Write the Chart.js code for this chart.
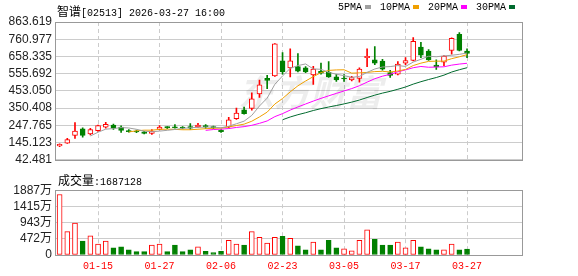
<!DOCTYPE html>
<html>
<head>
<meta charset="utf-8">
<script src="https://cdn.jsdelivr.net/npm/chart.js@4.4.1/dist/chart.umd.min.js"></script>
<style>
  html, body { margin: 0; padding: 0; background: #fff; }
  #wrap { position: relative; width: 578px; height: 276px; overflow: hidden; }
  canvas { position: absolute; left: 0; }
  #priceChart { top: 0; }
  #volChart { top: 180px; }
  .txt { position: absolute; white-space: nowrap; color: #000; line-height: 14px; }
  .cjk { font: 12px 'Noto Sans CJK SC', sans-serif; }
  .mono { font: 10px 'Liberation Mono', monospace; }
  .key { display: inline-block; width: 6px; height: 4px; margin: 0 9px 1px 3px; vertical-align: middle; }
</style>
</head>
<body>
<div id="wrap">
  <canvas id="priceChart" width="578" height="170"></canvas>
  <canvas id="volChart" width="578" height="96"></canvas>
  <div class="txt" style="left:57px;top:2px"><span class="cjk">智谱</span><span class="mono">[02513] 2026-03-27 16:00</span></div>
  <div class="txt mono" id="legend" style="left:338px;top:2px"></div>
  <div class="txt" style="left:58px;top:171px"><span class="cjk">成交量</span><span class="mono">:1687128</span></div>
</div>
<script>
// 智谱 (02513) daily K-line with MA lines and volume

const dates = [
  '01-08','01-09','01-12','01-13','01-14','01-15','01-16','01-19','01-20','01-21',
  '01-22','01-23','01-26','01-27','01-28','01-29','01-30','02-02','02-03','02-04',
  '02-05','02-06','02-09','02-10','02-11','02-12','02-13','02-16','02-20','02-23',
  '02-24','02-25','02-26','02-27','03-02','03-03','03-04','03-05','03-06','03-09',
  '03-10','03-11','03-12','03-13','03-16','03-17','03-18','03-19','03-20','03-23',
  '03-24','03-25','03-26','03-27'
];
const opens = [
  125, 142, 188, 227, 197, 216, 237, 250, 237, 216,
  213, 209, 199, 224, 237, 239, 236, 240, 238, 247,
  240, 220, 239, 287, 340, 349, 435, 528, 543, 632,
  590, 598, 590, 549, 569, 564, 537, 527, 518, 528,
  651, 638, 630, 562, 552, 619, 634, 714, 691, 607,
  624, 694, 790, 691
];
const highs = [
  138, 171, 264, 233, 230, 250, 266, 256, 245, 222,
  220, 212, 222, 247, 240, 253, 240, 258, 260, 252,
  244, 222, 296, 351, 357, 442, 518, 546, 735, 681,
  704, 676, 598, 600, 619, 628, 552, 550, 540, 590,
  704, 717, 641, 575, 628, 651, 771, 742, 700, 638,
  663, 770, 801, 704
];
const lows = [
  120, 140, 170, 178, 190, 212, 231, 224, 205, 207,
  204, 197, 193, 220, 228, 231, 226, 224, 236, 230,
  228, 205, 232, 283, 315, 338, 414, 467, 540, 552,
  537, 566, 562, 492, 552, 533, 510, 510, 512, 505,
  598, 609, 576, 533, 548, 609, 632, 651, 634, 581,
  603, 672, 692, 651
];
const closes = [
  135, 163, 214, 188, 222, 247, 254, 231, 218, 210,
  208, 199, 213, 237, 234, 233, 232, 231, 250, 240,
  234, 210, 281, 321, 318, 406, 489, 516, 733, 567,
  632, 571, 566, 583, 558, 537, 518, 524, 533, 583,
  659, 619, 583, 546, 613, 634, 748, 666, 638, 596,
  660, 767, 694, 676
];
// volume in 万股
const volumes = [
  1762, 680, 930, 402, 560, 319, 402, 208, 236, 153,
  97, 97, 291, 319, 97, 291, 97, 153, 236, 105,
  69, 105, 430, 319, 291, 680, 513, 347, 513, 541,
  486, 264, 153, 375, 153, 430, 208, 180, 125, 430,
  735, 458, 291, 291, 375, 208, 430, 236, 180, 153,
  153, 319, 153, 169
];

const priceTicks = ['42.481','145.123','247.765','350.408','453.050','555.692','658.335','760.977','863.619'];
const volTickValues = [0, 471.75, 943.5, 1415.25, 1887];
const volTickLabels = ['0', '472万', '943万', '1415万', '1887万'];
const dateTicks = ['01-15','01-27','02-06','02-23','03-05','03-17','03-27'];

const maNames = ['5PMA', '10PMA', '20PMA', '30PMA'];
const maDays = [5, 10, 20, 30];
const maColors = ['#a0a0a0', '#f0a000', '#ff00ff', '#006a2e'];

const RED = '#ff0000';
const GREEN = '#008000';
const GRID = '#cccccc';
const X_MIN = -0.6, X_MAX = 60.15;
const LABEL_FONT = "'Liberation Sans', 'Noto Sans CJK SC', sans-serif";

const priceVals = priceTicks.map(Number);
const tickIdx = dateTicks.map(d => dates.indexOf(d));

// moving averages of the closes, the way the source chart derives them
function movingAvg(n) {
    const out = [];
    for (let i = n - 1; i < closes.length; i++) {
        let s = 0;
        for (let k = i - n + 1; k <= i; k++) s += closes[k];
        out.push({ x: i, y: s / n });
    }
    return out;
}

// legend
const legend = document.getElementById('legend');
maNames.forEach((name, i) => {
    legend.innerHTML += `${name}<span class="key" style="background:${maColors[i]}"></span>`;
});

// frame around the plot area
const frame = {
    id: 'frame',
    afterDatasetsDraw(chart) {
        const { ctx, chartArea: a } = chart;
        ctx.save();
        ctx.strokeStyle = '#999';
        ctx.lineWidth = 1;
        ctx.strokeRect(Math.round(a.left) + 0.5, Math.round(a.top) + 0.5,
                       Math.round(a.right - a.left), Math.round(a.bottom - a.top));
        ctx.restore();
    }
};

const watermark = {
    id: 'watermark',
    beforeDatasetsDraw(chart) {
        const ctx = chart.ctx;
        ctx.save();
        ctx.font = "italic bold 36px 'Noto Sans CJK SC'";
        ctx.fillStyle = 'rgba(0,0,0,0.07)';
        ctx.textBaseline = 'middle';
        ctx.fillText('东方财富', 238, 92);
        ctx.restore();
    }
};

function xScale(showLabels) {
    return {
        type: 'linear',
        min: X_MIN,
        max: X_MAX,
        offset: false,
        grid: { color: GRID, drawTicks: false, offset: false },
        border: { display: false, dash: [4, 3] },
        ticks: {
            display: showLabels,
            color: RED,
            padding: 5,
            autoSkip: false,
            maxRotation: 0,
            font: { family: "'Liberation Mono', monospace", size: 10 },
            callback: v => dates[v]
        },
        afterBuildTicks: s => { s.ticks = tickIdx.map(v => ({ value: v })); },
        afterFit: s => { s.height = showLabels ? 21 : 0; }
    };
}

// ── Price chart ────────────────────────────────────────────────
const isUp = closes.map((c, i) => c >= opens[i]);
const bodies = closes.map((c, i) => ({ x: i, y: [Math.min(opens[i], c), Math.max(opens[i], c)] }));
const wicks = closes.map((c, i) => ({ x: i, y: [lows[i], highs[i]] }));

const maSets = maDays.map((n, i) => ({
    type: 'line',
    label: maNames[i],
    data: movingAvg(n),
    borderColor: maColors[i],
    borderWidth: 1,
    pointRadius: 0,
    tension: 0,
    fill: false,
    order: 0,
}));

new Chart(document.getElementById('priceChart'), {
    type: 'bar',
    data: {
        datasets: [
            ...maSets,
            {
                label: 'body',
                data: bodies,
                barThickness: 5,
                minBarLength: 1,
                grouped: false,
                borderWidth: 1,
                borderSkipped: false,
                backgroundColor: isUp.map(u => u ? '#ffffff' : GREEN),
                borderColor: isUp.map(u => u ? RED : GREEN),
                order: 1,
            },
            {
                label: 'wick',
                data: wicks,
                barThickness: 1,
                grouped: false,
                borderWidth: 0,
                backgroundColor: isUp.map(u => u ? RED : GREEN),
                order: 2,
            }
        ]
    },
    options: {
        responsive: false,
        animation: false,
        events: [],
        layout: { padding: { top: 22, right: 56, bottom: 4, left: 0 } },
        plugins: { legend: { display: false }, tooltip: { enabled: false } },
        scales: {
            x: xScale(false),
            y: {
                min: priceVals[0],
                max: priceVals[priceVals.length - 1],
                beginAtZero: false,
                grid: { color: GRID, drawTicks: false },
                border: { display: false },
                ticks: {
                    color: '#222',
                    padding: 3,
                    autoSkip: false,
                    font: { family: LABEL_FONT, size: 12 },
                    callback: (v, i) => priceTicks[i]
                },
                afterBuildTicks: s => { s.ticks = priceVals.map(v => ({ value: v })); },
                afterFit: s => { s.width = 55; }
            }
        }
    },
    plugins: [watermark, frame]
});

// ── Volume chart ───────────────────────────────────────────────
// bar colour follows the change against the previous close
const volUp = closes.map((c, i) => i === 0 ? c >= opens[0] : c >= closes[i - 1]);

new Chart(document.getElementById('volChart'), {
    type: 'bar',
    data: {
        datasets: [{
            label: '成交量',
            data: volumes.map((v, i) => ({ x: i, y: v })),
            barThickness: 5,
            grouped: false,
            borderWidth: 1,
            borderSkipped: false,
            backgroundColor: volUp.map(u => u ? '#ffffff' : GREEN),
            borderColor: volUp.map(u => u ? RED : GREEN),
        }]
    },
    options: {
        responsive: false,
        animation: false,
        events: [],
        layout: { padding: { top: 7, right: 56, bottom: 0, left: 0 } },
        plugins: { legend: { display: false }, tooltip: { enabled: false } },
        scales: {
            x: xScale(true),
            y: {
                min: 0,
                max: volTickValues[volTickValues.length - 1],
                grid: { color: GRID, drawTicks: false },
                border: { display: false },
                ticks: {
                    color: '#222',
                    padding: 3,
                    autoSkip: false,
                    font: { family: LABEL_FONT, size: 12 },
                    callback: (v, i) => volTickLabels[i]
                },
                afterBuildTicks: s => { s.ticks = volTickValues.map(v => ({ value: v })); },
                afterFit: s => { s.width = 55; }
            }
        }
    },
    plugins: [frame]
});
</script>
</body>
</html>
